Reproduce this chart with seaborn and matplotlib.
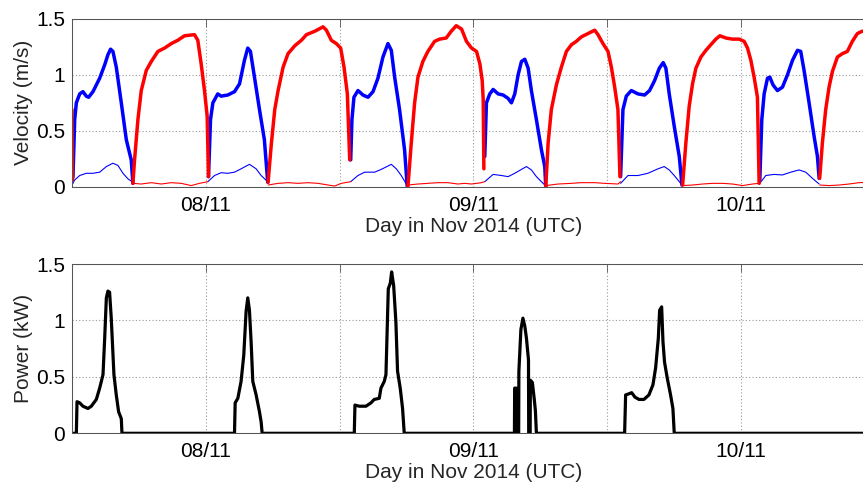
import numpy as np
import pandas as pd
import matplotlib
matplotlib.use("Agg")
import matplotlib.pyplot as plt
import seaborn as sns

# ---------------- data (time in hours since 07 Nov 2014 00:00 UTC) ----------------
nan = np.nan
# thick blue: flood speed
flood_t = [12.09, 12.24, 12.39, 12.69, 12.98, 13.28, 13.49, 13.88, 14.48, 14.93, 15.22, 15.46, 15.67, 15.97, 16.42, 16.87, 17.31, 17.46, nan,
           24.24, 24.42, 24.63, 25.07, 25.37, 25.97, 26.57, 27.02, 27.46, 27.76, 28.00, 28.36, 28.81, 29.25, 29.55, nan,
           36.99, 37.10, 37.28, 37.64, 38.09, 38.54, 38.99, 39.43, 39.88, 40.33, 40.63, 40.93, 41.37, 41.82, 42.06, nan,
           49.01, 49.16, 49.46, 49.76, 50.21, 50.66, 51.10, 51.40, 51.70, 52.00, 52.30, 52.60, 52.90, 53.19, 53.64, 54.09, 54.39, 54.48, nan,
           61.19, 61.40, 61.70, 62.15, 62.75, 63.34, 63.79, 64.24, 64.66, 65.01, 65.25, 65.55, 66.00, 66.45, 66.69, nan,
           73.67, 73.85, 74.06, 74.36, 74.57, 74.86, 75.25, 75.70, 76.15, 76.60, 77.05, 77.34, 77.64, 78.09, 78.54, 78.84, 78.99]
flood_v = [0.09, 0.60, 0.75, 0.83, 0.85, 0.81, 0.80, 0.85, 0.97, 1.09, 1.18, 1.23, 1.21, 1.07, 0.75, 0.42, 0.24, 0.03, nan,
           0.09, 0.60, 0.75, 0.83, 0.81, 0.82, 0.85, 0.92, 1.13, 1.24, 1.21, 0.98, 0.69, 0.42, 0.04, nan,
           0.24, 0.60, 0.80, 0.86, 0.82, 0.80, 0.85, 0.97, 1.16, 1.28, 1.22, 0.98, 0.69, 0.33, 0.00, nan,
           0.27, 0.75, 0.83, 0.87, 0.83, 0.82, 0.79, 0.75, 0.83, 1.00, 1.12, 1.14, 1.06, 0.86, 0.60, 0.33, 0.18, 0.00, nan,
           0.09, 0.69, 0.81, 0.86, 0.83, 0.82, 0.86, 0.95, 1.06, 1.11, 1.06, 0.83, 0.54, 0.27, 0.015, nan,
           0.06, 0.60, 0.83, 0.97, 0.98, 0.91, 0.86, 0.89, 1.00, 1.13, 1.22, 1.21, 1.04, 0.75, 0.45, 0.27, 0.075]

# thick red: ebb speed
ebb_t = [12.0, 12.06, nan,
         17.46, 17.61, 17.91, 18.21, 18.66, 19.11, 19.70, 20.30, 20.90, 21.49, 22.09, 22.98, 23.28, 23.58, 23.88, 24.12, 24.24, nan,
         29.58, 29.88, 30.18, 30.48, 30.93, 31.37, 31.97, 32.57, 33.02, 33.76, 34.51, 34.81, 35.25, 35.70, 36.09, 36.39, 36.69, 36.90, nan,
         42.12, 42.42, 42.72, 43.02, 43.46, 43.91, 44.51, 44.96, 45.55, 46.00, 46.45, 46.93, 47.37, 47.82, 48.27, 48.57, 48.78, 48.87, 48.93, nan,
         54.48, 54.69, 54.98, 55.43, 55.88, 56.33, 56.78, 57.22, 57.67, 58.27, 58.87, 59.16, 59.61, 60.06, 60.36, 60.66, 60.95, 61.13, nan,
         66.75, 67.04, 67.34, 67.64, 67.94, 68.39, 68.84, 69.28, 69.73, 70.09, 70.63, 71.22, 71.82, 72.27, 72.57, 72.87, 73.16, 73.46, 73.61, nan,
         79.04, 79.28, 79.58, 79.88, 80.18, 80.63, 81.07, 81.52, 81.97, 82.42, 82.84, 84.0]
ebb_v = [0.69, 0.06, nan,
         0.03, 0.24, 0.60, 0.86, 1.04, 1.12, 1.21, 1.24, 1.28, 1.31, 1.35, 1.36, 1.31, 1.10, 0.86, 0.63, 0.09, nan,
         0.04, 0.39, 0.69, 0.86, 1.07, 1.19, 1.26, 1.31, 1.36, 1.39, 1.43, 1.40, 1.31, 1.28, 1.24, 1.07, 0.83, 0.24, nan,
         0.00, 0.39, 0.75, 0.98, 1.12, 1.21, 1.30, 1.32, 1.33, 1.39, 1.44, 1.41, 1.30, 1.24, 1.21, 1.10, 0.95, 0.78, 0.16, nan,
         0.00, 0.39, 0.69, 0.91, 1.07, 1.21, 1.27, 1.30, 1.34, 1.37, 1.40, 1.36, 1.28, 1.21, 1.07, 0.89, 0.69, 0.09, nan,
         0.015, 0.39, 0.72, 0.92, 1.06, 1.16, 1.22, 1.27, 1.32, 1.35, 1.33, 1.32, 1.32, 1.30, 1.24, 1.13, 0.98, 0.80, 0.03, nan,
         0.075, 0.39, 0.69, 0.89, 1.03, 1.16, 1.19, 1.21, 1.30, 1.37, 1.39, 1.40]

# thin blue: flood secondary
flood2_t = [12.0, 12.24, 12.69, 13.28, 13.88, 14.48, 15.08, 15.67, 16.12, 16.57, 17.02, 17.46, nan,
            24.18, 24.78, 25.37, 25.97, 26.57, 27.16, 27.91, 28.51, 28.96, 29.49, nan,
            36.99, 37.64, 38.24, 39.14, 39.73, 40.63, 41.08, 41.52, 42.06, nan,
            49.01, 49.76, 50.51, 51.10, 51.70, 52.30, 52.75, 53.19, 53.64, 54.09, 54.45, nan,
            61.19, 61.85, 62.75, 63.64, 64.54, 65.10, 65.55, 66.00, 66.45, 66.69, nan,
            73.67, 74.21, 74.95, 75.70, 76.45, 77.19, 77.79, 78.39, 78.99]
flood2_v = [0.015, 0.06, 0.10, 0.12, 0.12, 0.13, 0.18, 0.21, 0.19, 0.12, 0.07, 0.04, nan,
            0.045, 0.10, 0.125, 0.12, 0.13, 0.16, 0.20, 0.16, 0.10, 0.05, nan,
            0.045, 0.10, 0.13, 0.13, 0.155, 0.20, 0.16, 0.10, 0.01, nan,
            0.045, 0.11, 0.10, 0.09, 0.12, 0.155, 0.18, 0.15, 0.09, 0.045, 0.01, nan,
            0.03, 0.10, 0.10, 0.12, 0.16, 0.18, 0.15, 0.10, 0.045, 0.015, nan,
            0.03, 0.10, 0.11, 0.105, 0.13, 0.15, 0.13, 0.075, 0.024]

# thin red: ebb secondary
ebb2_t = [17.46, 18.21, 19.11, 20.00, 20.90, 21.79, 22.69, 23.43, 24.18, nan,
          29.58, 30.48, 31.37, 32.27, 33.16, 34.06, 34.96, 35.55, 36.15, 36.99, nan,
          42.12, 43.02, 43.91, 44.81, 45.70, 46.60, 47.20, 47.82, 48.72, 49.01, nan,
          54.48, 55.58, 56.78, 57.67, 58.87, 59.76, 60.95, 61.19, nan,
          66.75, 67.64, 68.54, 69.43, 70.33, 71.22, 72.12, 73.01, 73.61, nan,
          79.04, 79.88, 80.78, 81.67, 82.57, 84.0]
ebb2_v = [0.03, 0.024, 0.036, 0.024, 0.036, 0.03, 0.01, 0.03, 0.045, nan,
          0.015, 0.03, 0.036, 0.03, 0.036, 0.03, 0.015, 0.006, 0.03, 0.045, nan,
          0.015, 0.024, 0.03, 0.036, 0.036, 0.024, 0.03, 0.024, 0.036, 0.045, nan,
          0.01, 0.024, 0.03, 0.036, 0.036, 0.03, 0.024, 0.045, nan,
          0.01, 0.015, 0.024, 0.03, 0.03, 0.024, 0.01, 0.024, 0.03, nan,
          0.015, 0.01, 0.015, 0.024, 0.036, 0.04]

# power (kW)
power_t = [12.0, 12.39, 12.45, 12.69, 12.98, 13.43, 13.73, 14.18, 14.48, 14.78, 14.93, 15.08, 15.22, 15.37, 15.52, 15.76, 15.97, 16.18, 16.42, 16.48,
           26.57, 26.63, 26.87, 27.16, 27.40, 27.61, 27.76, 27.91, 28.06, 28.21, 28.51, 28.81, 28.96, 29.05,
           37.31, 37.37, 37.76, 38.36, 38.81, 39.10, 39.55, 39.70, 40.00, 40.15, 40.36, 40.54, 40.66, 40.84, 41.04, 41.19, 41.43, 41.64, 41.79,
           51.67, 51.69, 51.85, 51.87, 52.05, 52.07, 52.25, 52.43, 52.60, 52.75, 52.93, 52.95, 53.08, 53.10, 53.28, 53.45, 53.55, 53.64,
           61.55, 61.64, 61.94, 62.18, 62.48, 62.84, 63.28, 63.73, 64.09, 64.33, 64.57, 64.69, 64.87, 64.99, 65.13, 65.37, 65.67, 65.88, 66.00,
           84.0]
power_v = [0.0, 0.0, 0.28, 0.27, 0.24, 0.22, 0.24, 0.30, 0.40, 0.52, 0.84, 1.20, 1.26, 1.25, 1.02, 0.52, 0.34, 0.19, 0.13, 0.0,
           0.0, 0.27, 0.31, 0.46, 0.69, 1.08, 1.20, 1.09, 0.81, 0.46, 0.34, 0.19, 0.10, 0.0,
           0.0, 0.25, 0.24, 0.24, 0.27, 0.30, 0.31, 0.40, 0.46, 0.52, 1.28, 1.33, 1.43, 1.31, 0.99, 0.55, 0.40, 0.22, 0.0,
           0.0, 0.40, 0.40, 0.0, 0.0, 0.55, 0.92, 1.02, 0.95, 0.84, 0.65, 0.0, 0.0, 0.47, 0.45, 0.30, 0.20, 0.0,
           0.0, 0.34, 0.35, 0.36, 0.32, 0.30, 0.30, 0.34, 0.43, 0.58, 0.84, 1.09, 1.12, 0.81, 0.63, 0.49, 0.34, 0.22, 0.0,
           0.0]

tick_days = [7.5, 8.0, 8.5, 9.0, 9.5, 10.0, 10.5]
tick_labels = ["", "08/11", "", "09/11", "", "10/11", ""]
y_ticks = [0, 0.5, 1, 1.5]
y_tick_labels = ["0", "0.5", "1", "1.5"]


def to_frame(t, v):
    t = np.asarray(t, float)
    v = np.asarray(v, float)
    seg = np.cumsum(np.isnan(v))
    m = ~np.isnan(v)
    return pd.DataFrame({"day": 7 + t[m] / 24.0, "val": v[m], "seg": seg[m]})


sns.set_style("white")
plt.rcParams["font.family"] = ["Liberation Sans", "DejaVu Sans"]

W, H = 863, 484
fig = plt.figure(figsize=(W / 100, H / 100), dpi=100)
ax1 = fig.add_axes([72 / W, 1 - 186.7 / H, 803 / W, 167.7 / H])
ax2 = fig.add_axes([72 / W, 1 - 433.3 / H, 803 / W, 169.3 / H])

BLUE, RED = "#0000ff", "#ff0000"

for t, v, c, lw in [(flood2_t, flood2_v, BLUE, 0.8), (ebb2_t, ebb2_v, RED, 0.8),
                    (flood_t, flood_v, BLUE, 2.5), (ebb_t, ebb_v, RED, 2.5)]:
    sns.lineplot(data=to_frame(t, v), x="day", y="val", units="seg", estimator=None,
                 sort=False, color=c, lw=lw, ax=ax1, legend=False)

sns.lineplot(data=to_frame(power_t, power_v), x="day", y="val", units="seg", estimator=None,
             sort=False, color="black", lw=2.3, ax=ax2, legend=False)

for ax, ylab in [(ax1, "Velocity (m/s)"), (ax2, "Power (kW)")]:
    ax.set_xlim(7.5, 10.5)
    ax.set_ylim(0, 1.5)
    ax.set_xticks(tick_days)
    ax.set_xticklabels(tick_labels)
    ax.set_yticks(y_ticks)
    ax.set_yticklabels(y_tick_labels)
    ax.grid(True, linestyle=(0, (1, 2)), color="#9a9a9a", lw=0.8)
    ax.tick_params(direction="in", top=True, right=True, length=5.8, width=0.6,
                   color="#555555", labelsize=15, labelcolor="black")
    ax.tick_params(axis="x", pad=6.5)
    ax.tick_params(axis="y", pad=5)
    for s in ax.spines.values():
        s.set_visible(True)
        s.set_color("#555555")
        s.set_linewidth(0.75)
    ax.set_xlabel("Day in Nov 2014 (UTC)", fontsize=15, labelpad=1.5)
    ax.set_ylabel(ylab, fontsize=15, labelpad=2)
    ax.set_facecolor("white")

fig.savefig("out.png", dpi=100, facecolor="white")
